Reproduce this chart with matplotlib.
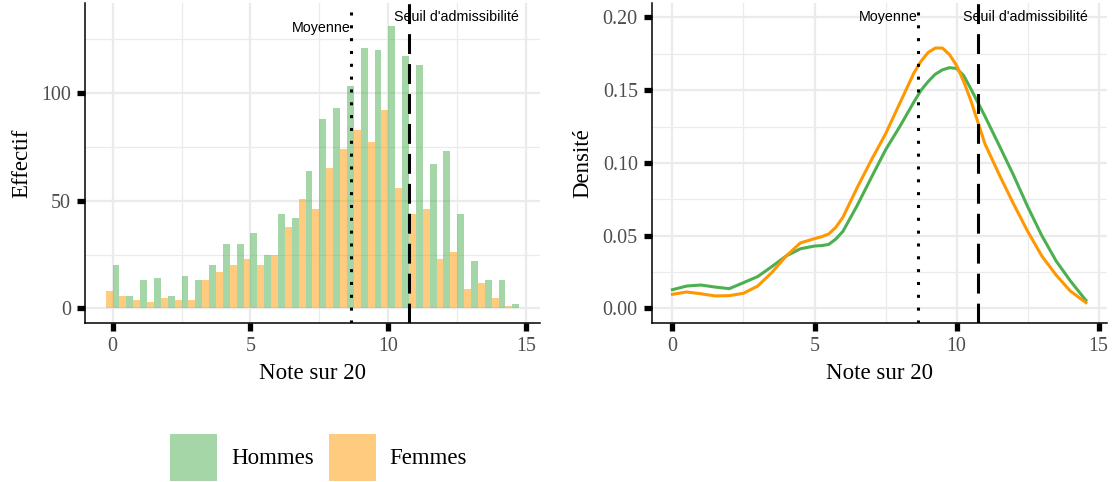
import matplotlib
matplotlib.use("Agg")
import matplotlib.pyplot as plt
from matplotlib.patches import Patch
from matplotlib.ticker import MultipleLocator, FormatStrFormatter
import numpy as np

# histogram: bin centres (note sur 20, bins of 0.5) and counts per sex
bin_centers = [0, 0.5, 1, 1.5, 2, 2.5, 3, 3.5, 4, 4.5, 5, 5.5, 6, 6.5, 7,
               7.5, 8, 8.5, 9, 9.5, 10, 10.5, 11, 11.5, 12, 12.5, 13, 13.5, 14, 14.5]
hommes_counts = [20, 6, 13, 14, 6, 15, 13, 20, 30, 30, 35, 25, 44, 42, 64,
                 88, 93, 103, 121, 120, 131, 117, 113, 67, 73, 44, 22, 13, 13, 2]
femmes_counts = [8, 6, 4, 3, 5, 4, 4, 13, 17, 20, 23, 20, 25, 38, 51,
                 46, 65, 74, 83, 77, 92, 56, 44, 46, 23, 26, 9, 12, 5, 1]

# density curves
density_x = [0, 0.5, 1, 1.5, 2, 2.5, 3, 3.5, 4, 4.5, 5, 5.25, 5.5, 5.75, 6, 6.5, 7,
             7.5, 8, 8.5, 8.75, 9, 9.25, 9.5, 9.75, 10, 10.25, 10.5, 11, 11.5, 12,
             12.5, 13, 13.5, 14, 14.55]
hommes_density = [0.0129, 0.0154, 0.0161, 0.0147, 0.0136, 0.0177, 0.0219, 0.0288,
                  0.036, 0.041, 0.0429, 0.0432, 0.044, 0.0477, 0.053, 0.0707, 0.090,
                  0.109, 0.125, 0.142, 0.150, 0.156, 0.161, 0.164, 0.1655, 0.165,
                  0.160, 0.151, 0.132, 0.112, 0.0917, 0.070, 0.050, 0.0327, 0.019,
                  0.0055]
femmes_density = [0.0097, 0.0113, 0.0101, 0.0086, 0.0088, 0.0104, 0.0154, 0.0247,
                  0.036, 0.045, 0.048, 0.0493, 0.0512, 0.0558, 0.0627, 0.083, 0.102,
                  0.120, 0.141, 0.162, 0.170, 0.176, 0.179, 0.179, 0.1745, 0.167,
                  0.156, 0.143, 0.113, 0.092, 0.072, 0.053, 0.036, 0.023, 0.012,
                  0.004]

moyenne = 8.64
seuil = 10.75
groups = ["Hommes", "Femmes"]

GREEN = "#4caf50"
ORANGE = "#ff9800"
GRID = "#ebebeb"

plt.rcParams["font.family"] = ["Liberation Serif", "DejaVu Serif"]


def style_axes(ax, xlabel, ylabel, ylabel_x):
    for side in ("top", "right"):
        ax.spines[side].set_visible(False)
    for side in ("left", "bottom"):
        ax.spines[side].set_linewidth(1.1)
        ax.spines[side].set_color("black")
    ax.set_axisbelow(True)
    ax.grid(which="major", color=GRID, linewidth=1.6)
    ax.grid(which="minor", color=GRID, linewidth=0.9)
    ax.tick_params(which="major", direction="out", length=5.5, width=3.8,
                   color="black", pad=4.5, labelsize=14.4, labelcolor="#4d4d4d")
    ax.tick_params(which="minor", length=0)
    ax.xaxis.set_major_locator(MultipleLocator(5))
    ax.xaxis.set_minor_locator(MultipleLocator(2.5))
    ax.set_xlabel(xlabel, fontsize=16.5)
    ax.set_ylabel(ylabel, fontsize=16.5)
    ax.xaxis.set_label_coords(0.5, -0.125)
    ax.yaxis.set_label_coords(ylabel_x, 0.5)


def add_lines(ax, y_moy, y_seuil):
    ax.axvline(moyenne, color="black", linewidth=2.2, linestyle=(0, (1, 3.2)))
    ax.axvline(seuil, color="black", linewidth=2.2, linestyle=(0, (6.5, 3.3)))
    ax.text(moyenne, y_moy, "Moyenne", ha="right", va="center",
            fontsize=10.3, family="Liberation Sans")
    ax.annotate("Seuil d'admissibilité", xy=(seuil, y_seuil), xytext=(-11, 0),
                textcoords="offset points", ha="left", va="center",
                fontsize=10.3, family="Liberation Sans")


fig = plt.figure(figsize=(11.14, 4.82), dpi=100)
ax1 = fig.add_axes([0.0763, 0.3299, 0.4084, 0.664])
ax2 = fig.add_axes([0.585, 0.3299, 0.4084, 0.664])

# left: dodged histogram
centers = np.array(bin_centers)
ax1.bar(centers - 0.125, femmes_counts, width=0.25, color=ORANGE, alpha=0.5, linewidth=0)
ax1.bar(centers + 0.125, hommes_counts, width=0.25, color=GREEN, alpha=0.5, linewidth=0)
ax1.set_xlim(-1.0, 15.5)
ax1.set_ylim(-6.75, 141.75)
ax1.yaxis.set_major_locator(MultipleLocator(50))
ax1.yaxis.set_minor_locator(MultipleLocator(25))
style_axes(ax1, "Note sur 20", "Effectif", -0.1165)
add_lines(ax1, 130, 135)

# right: density curves
ax2.plot(density_x, hommes_density, color=GREEN, linewidth=2.2)
ax2.plot(density_x, femmes_density, color=ORANGE, linewidth=2.2)
ax2.set_xlim(-0.73, 15.28)
ax2.set_ylim(-0.01, 0.21)
ax2.yaxis.set_major_locator(MultipleLocator(0.05))
ax2.yaxis.set_minor_locator(MultipleLocator(0.025))
ax2.yaxis.set_major_formatter(FormatStrFormatter("%.2f"))
style_axes(ax2, "Note sur 20", "Densité", -0.129)
add_lines(ax2, 0.2, 0.2)

handles = [Patch(facecolor=GREEN, alpha=0.5, linewidth=0),
           Patch(facecolor=ORANGE, alpha=0.5, linewidth=0)]
fig.legend(handles, groups, loc="center", bbox_to_anchor=(0.286, 0.051), ncol=2,
           frameon=False, fontsize=16.5, handlelength=2.05, handleheight=2.75,
           handletextpad=0.6, columnspacing=0.65, borderpad=0, borderaxespad=0)

fig.savefig("out.png", dpi=100, facecolor="white")
